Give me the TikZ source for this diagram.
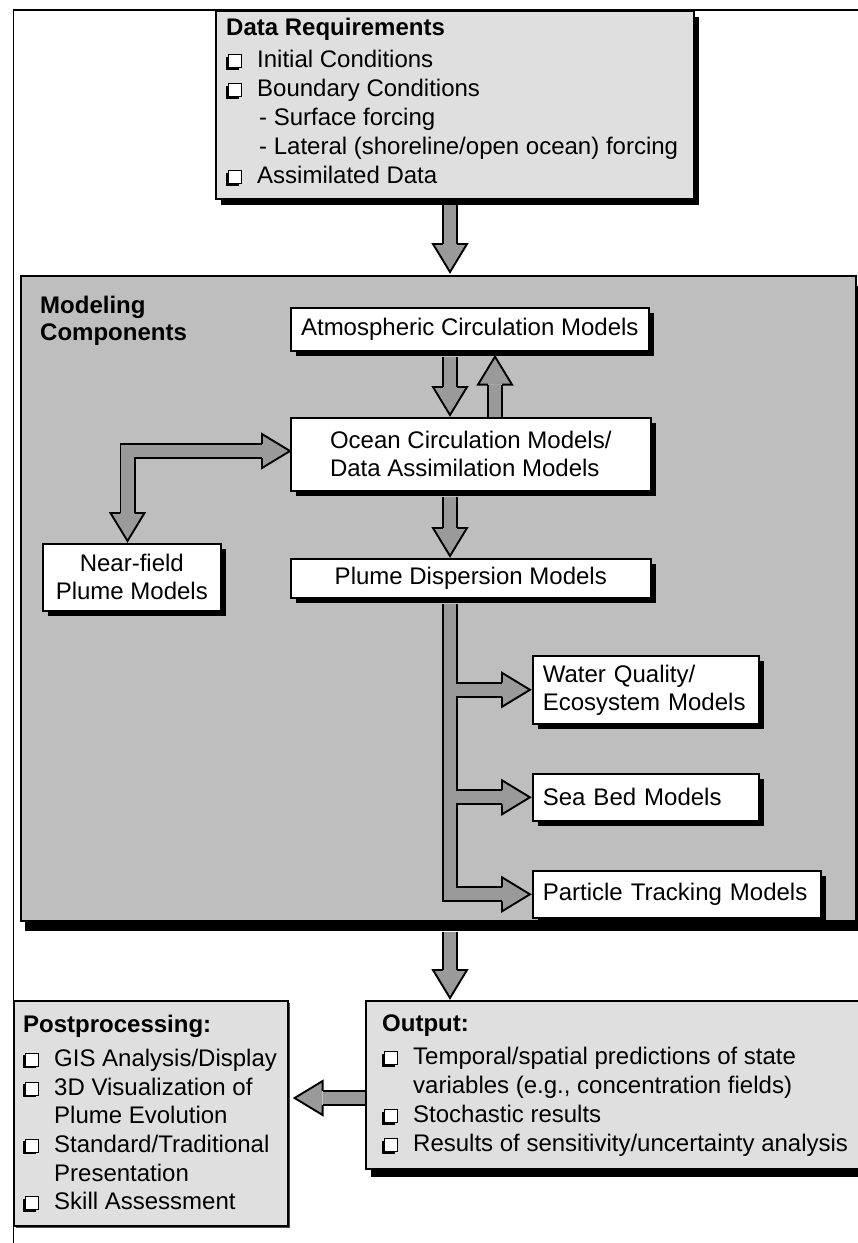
\documentclass[tikz,border=0pt]{standalone}
\usepackage{fontspec}
\setmainfont{Liberation Sans}
\usetikzlibrary{shadows,calc}
\definecolor{lightfill}{HTML}{DFDFDF}
\definecolor{modelfill}{HTML}{BEBEBE}
\definecolor{arrowfill}{HTML}{9A9A9A}
\newcommand\chk{\makebox[31pt][l]{\tikz[baseline=0pt,x=1pt,y=1pt]{\fill[black] (-2,-2) rectangle (11,11);\filldraw[fill=white,draw=black,line width=1pt] (0,0) rectangle (13,13);}}}
\tikzset{
  hline/.style={draw=black,line width=1.9pt,line join=miter},
  sout/.style={draw=black,line width=16pt,line cap=butt,line join=miter},
  sin/.style={draw=arrowfill,line width=12.2pt,line cap=butt,line join=miter},
  lbox/.style={draw=black,line width=1.6pt,fill=lightfill,anchor=north west,inner sep=0pt},
  mbox/.style={draw=black,line width=1.6pt,fill=white,anchor=north west,inner sep=0pt,
    drop shadow={shadow xshift=5pt,shadow yshift=-5pt,fill=black,opacity=1}},
  listtext/.style={anchor=north west,inner sep=0pt,align=left}
}
\newcommand\headD[1]{\fill[arrowfill] #1 -- ++(-17,-28) -- ++(34,0) -- cycle;
  \draw[hline] #1 ++(-7.1,-28) -- ++(-9.9,0) -- #1 -- ++(17,-28) -- ++(-9.9,0);}
\newcommand\headU[1]{\fill[arrowfill] #1 -- ++(-17,28) -- ++(34,0) -- cycle;
  \draw[hline] #1 ++(-7.1,28) -- ++(-9.9,0) -- #1 -- ++(17,28) -- ++(-9.9,0);}
\newcommand\headR[1]{\fill[arrowfill] #1 -- ++(-28,-17) -- ++(0,34) -- cycle;
  \draw[hline] #1 ++(-28,-7.1) -- ++(0,-9.9) -- #1 -- ++(-28,17) -- ++(0,-9.9);}
\newcommand\headL[1]{\fill[arrowfill] #1 -- ++(28,-17) -- ++(0,34) -- cycle;
  \draw[hline] #1 ++(28,-7.1) -- ++(0,-9.9) -- #1 -- ++(28,17) -- ++(0,-9.9);}
\begin{document}
\begin{tikzpicture}[x=1pt,y=-1pt,font=\fontsize{24}{29}\selectfont]
\useasboundingbox (0,0) rectangle (858,1243);
\clip (0,0) rectangle (858,1243);
\fill[white] (0,0) rectangle (858,1243);
% page frame
\draw[line width=1.5pt] (13.5,1243) -- (13.5,10) -- (858,10);
% big boxes
\node[lbox,minimum width=478pt,minimum height=188pt,
  drop shadow={shadow xshift=5pt,shadow yshift=-6pt,fill=black,opacity=1}] (data) at (215,10) {};
\node[lbox,fill=modelfill,minimum width=835pt,minimum height=645pt,
  drop shadow={shadow xshift=4pt,shadow yshift=-10pt,fill=black,opacity=1}] (model) at (20,275) {};
\node[lbox,minimum width=274pt,minimum height=225pt,
  drop shadow={shadow xshift=2pt,shadow yshift=-2pt,fill=black!70,opacity=1}] (post) at (13,1000) {};
\node[lbox,minimum width=502pt,minimum height=168pt,
  drop shadow={shadow xshift=5pt,shadow yshift=-8pt,fill=black,opacity=1}] (output) at (365,1000) {};
% texts of list boxes
\node[listtext] (dataT) at (226,18) {\textbf{Data Requirements}\\[3pt]
  \chk Initial Conditions\\
  \chk Boundary Conditions\\
  \hspace*{33pt}- Surface forcing\\
  \hspace*{33pt}- Lateral (shoreline/open ocean) forcing\\
  \chk Assimilated Data};
\node[listtext,font=\bfseries\fontsize{24}{27}\selectfont] (modelT) at (40,296) {Modeling\\Components};
\node[listtext] (outputT) at (382,1015) {\textbf{Output:}\\[4pt]
  \chk Temporal/spatial predictions of state\\
  \hspace*{31pt}variables (e.g., concentration fields)\\
  \chk Stochastic results\\
  \chk Results of sensitivity/uncertainty analysis};
\node[listtext,font=\fontsize{24}{28.7}\selectfont] (postT) at (23,1015) {\textbf{Postprocessing:}\\[5pt]
  \chk GIS Analysis/Display\\
  \chk 3D Visualization of\\
  \hspace*{31pt}Plume Evolution\\
  \chk Standard/Traditional\\
  \hspace*{31pt}Presentation\\
  \chk Skill Assessment};
% model component boxes
\node[mbox,minimum width=358pt,minimum height=43pt] (atm) at (290,307) {Atmospheric Circulation Models};
\node[mbox,minimum width=360pt,minimum height=73pt,align=left,font=\fontsize{24}{28}\selectfont] (ocean) at (290,417) {Ocean Circulation Models/\\Data Assimilation Models};
\node[mbox,minimum width=360pt,minimum height=39pt] (plume) at (290,558) {Plume Dispersion Models};
\node[mbox,minimum width=178pt,minimum height=67pt,align=center,font=\fontsize{24}{28}\selectfont] (near) at (42,543) {Near-field\\Plume Models};
\node[mbox,text width=206pt,inner xsep=10pt,minimum height=68pt,align=left,font=\fontsize{24}{28}\selectfont] (water) at (532,655) {Water Quality/\\Ecosystem Models};
\node[mbox,text width=206pt,inner xsep=10pt,minimum height=47pt,align=left] (seabed) at (532,773) {Sea Bed Models};
\node[mbox,text width=268pt,inner xsep=10pt,minimum height=47pt,align=left] (particle) at (532,870) {Particle Tracking Models};
% helper coordinates
\coordinate (x450) at (450,0);
\coordinate (x495) at (495,0);
\coordinate (x127) at (127.5,0);
\coordinate (y451) at (0,451);
\coordinate (y1098) at (0,1098);
% arrow 1: data -> model
\coordinate (a1s) at ($(x450 |- data.south)+(0,5)$);
\coordinate (a1t) at ($(x450 |- model.north)+(0,-3)$);
\coordinate (a1b) at ($(a1t)+(0,-28)$);
\draw[sout] (a1s) -- (a1b); \draw[sin] (a1s) -- (a1b); \headD{(a1t)}
% arrow 2: atm -> ocean
\coordinate (a2s) at ($(x450 |- atm.south)+(0,5)$);
\coordinate (a2t) at ($(x450 |- ocean.north)+(0,-2)$);
\coordinate (a2b) at ($(a2t)+(0,-28)$);
\draw[sout] (a2s) -- (a2b); \draw[sin] (a2s) -- (a2b); \headD{(a2t)}
% arrow 3: ocean -> atm
\coordinate (a3s) at (x495 |- ocean.north);
\coordinate (a3t) at ($(x495 |- atm.south)+(0,5)$);
\coordinate (a3b) at ($(a3t)+(0,28)$);
\draw[sout] (a3s) -- (a3b); \draw[sin] (a3s) -- (a3b); \headU{(a3t)}
% arrow 4: ocean -> plume
\coordinate (a4s) at ($(x450 |- ocean.south)+(0,5)$);
\coordinate (a4t) at ($(x450 |- plume.north)+(0,-2)$);
\coordinate (a4b) at ($(a4t)+(0,-28)$);
\draw[sout] (a4s) -- (a4b); \draw[sin] (a4s) -- (a4b); \headD{(a4t)}
% arrow 5: ocean <-> near-field
\coordinate (a5r) at (ocean.west |- y451);
\coordinate (a5rb) at ($(a5r)+(-28,0)$);
\coordinate (a5c) at (x127 |- y451);
\coordinate (a5d) at ($(x127 |- near.north)+(0,-2)$);
\coordinate (a5db) at ($(a5d)+(0,-28)$);
\draw[sout] (a5rb) -- (a5c) -- (a5db); \draw[sin] (a5rb) -- (a5c) -- (a5db);
\headR{(a5r)} \headD{(a5d)}
% arrow 6: plume -> water / seabed / particle
\coordinate (t0) at ($(x450 |- plume.south)+(0,5)$);
\coordinate (tw) at ($(water.west)+(-2,0)$);
\coordinate (tws) at (x450 |- tw);
\coordinate (twb) at ($(tw)+(-28,0)$);
\coordinate (ts) at ($(seabed.west)+(-2,0)$);
\coordinate (tss) at (x450 |- ts);
\coordinate (tsb) at ($(ts)+(-28,0)$);
\coordinate (tp) at ($(particle.west)+(-2,0)$);
\coordinate (tps) at (x450 |- tp);
\coordinate (tpb) at ($(tp)+(-28,0)$);
\draw[sout] (t0) -- (tps) -- (tpb);
\draw[sout] (tws) -- (twb);
\draw[sout] (tss) -- (tsb);
\draw[sin] (t0) -- (tps) -- (tpb);
\draw[sin] (tws) -- (twb);
\draw[sin] (tss) -- (tsb);
\headR{(tw)} \headR{(ts)} \headR{(tp)}
% arrow 7: model -> output
\coordinate (a7s) at ($(x450 |- model.south)+(0,10)$);
\coordinate (a7t) at ($(x450 |- output.north)+(0,-2)$);
\coordinate (a7b) at ($(a7t)+(0,-28)$);
\draw[sout] (a7s) -- (a7b); \draw[sin] (a7s) -- (a7b); \headD{(a7t)}
% arrow 8: output -> postprocessing
\coordinate (a8s) at (output.west |- y1098);
\coordinate (a8t) at ($(post.east |- y1098)+(6,0)$);
\coordinate (a8b) at ($(a8t)+(28,0)$);
\draw[sout] (a8s) -- (a8b); \draw[sin] (a8s) -- (a8b); \headL{(a8t)}
\end{tikzpicture}
\end{document}
